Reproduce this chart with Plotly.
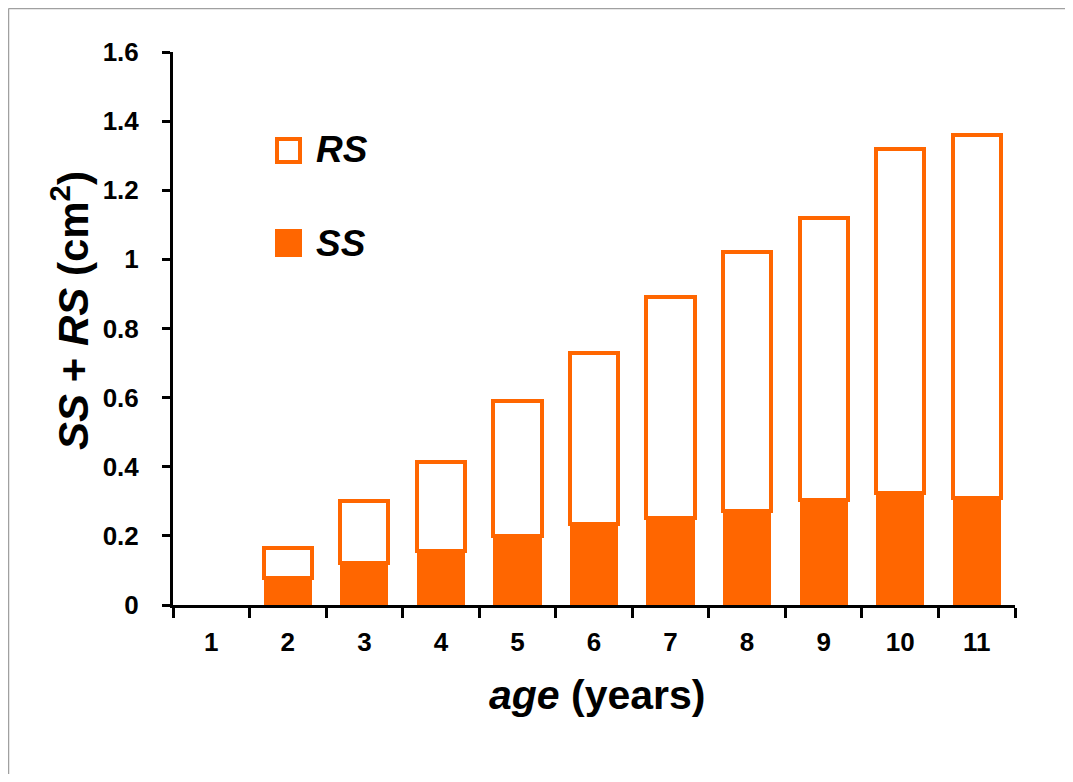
import plotly.graph_objects as go

ages = ["1", "2", "3", "4", "5", "6", "7", "8", "9", "10", "11"]
ss_values = [None, 0.078, 0.122, 0.156, 0.200, 0.234, 0.252, 0.272, 0.304, 0.324, 0.310]
rs_values = [None, 0.087, 0.178, 0.259, 0.390, 0.496, 0.638, 0.748, 0.816, 0.996, 1.050]
y_ticks = [0, 0.2, 0.4, 0.6, 0.8, 1.0, 1.2, 1.4, 1.6]
y_tick_labels = ["0", "0.2", "0.4", "0.6", "0.8", "1", "1.2", "1.4", "1.6"]

ORANGE = "#FF6600"
FONT = "Liberation Sans"

fig = go.Figure()
fig.add_trace(go.Bar(
    x=ages, y=ss_values, name="SS",
    marker=dict(color=ORANGE, line=dict(width=0)),
))
fig.add_trace(go.Bar(
    x=ages, y=rs_values, name="RS",
    marker=dict(color="white", line=dict(color=ORANGE, width=4)),
))

OFF = 8  # page body margin
W, H = 1073 - 2 * OFF, 782 - 2 * OFF  # fit inside the window without scrollbars
PLOT_X0, PLOT_X1, PLOT_Y0, PLOT_Y1 = 173, 1015, 52, 605  # target screen coords
L = PLOT_X0 - OFF
T = PLOT_Y0 - OFF
R = W - L - (PLOT_X1 - PLOT_X0)
B = H - T - (PLOT_Y1 - PLOT_Y0)
pw, ph = PLOT_X1 - PLOT_X0, PLOT_Y1 - PLOT_Y0


def px(x):
    return (x - PLOT_X0) / pw


def py(y):
    return (PLOT_Y1 - y) / ph


FRAME = dict(color="#a0a0a0", width=1.5)
shapes = [
    # outer frame: only top and left edges are visible in the view
    dict(type="line", xref="paper", yref="paper",
         x0=px(8.5), x1=px(1200), y0=py(8.5), y1=py(8.5), line=FRAME, layer="below"),
    dict(type="line", xref="paper", yref="paper",
         x0=px(8.5), x1=px(8.5), y0=py(8.5), y1=py(900), line=FRAME, layer="below"),
    # legend swatches
    dict(type="rect", xref="paper", yref="paper",
         x0=px(277), x1=px(300), y0=py(162), y1=py(139),
         line=dict(color=ORANGE, width=4), fillcolor="white"),
    dict(type="rect", xref="paper", yref="paper",
         x0=px(275), x1=px(302), y0=py(257), y1=py(229),
         line=dict(width=0), fillcolor=ORANGE),
]

annotations = [
    dict(text="<b><i>RS</i></b>", xref="paper", yref="paper", x=px(314), y=py(150),
         xanchor="left", yanchor="middle", showarrow=False,
         font=dict(family=FONT, size=37, color="black")),
    dict(text="<b><i>SS</i></b>", xref="paper", yref="paper", x=px(314), y=py(243),
         xanchor="left", yanchor="middle", showarrow=False,
         font=dict(family=FONT, size=37, color="black")),
    dict(text="<b><i>age</i> (years)</b>", xref="paper", yref="paper", x=px(597), y=py(695),
         xanchor="center", yanchor="middle", showarrow=False,
         font=dict(family=FONT, size=41, color="black")),
    dict(text="<b><i>SS</i> + <i>RS</i> (cm<sup>2</sup>)</b>", xref="paper", yref="paper",
         x=px(70), y=py(311), xanchor="center", yanchor="middle", showarrow=False,
         textangle=-90, font=dict(family=FONT, size=42, color="black")),
]

fig.update_layout(
    width=W, height=H,
    margin=dict(l=L, r=R, t=T, b=B, autoexpand=False),
    barmode="stack", bargap=0.37,
    showlegend=False,
    paper_bgcolor="white", plot_bgcolor="white",
    font=dict(family=FONT, color="black"),
    shapes=shapes, annotations=annotations,
    xaxis=dict(
        type="category", categoryorder="array", categoryarray=ages,
        showline=True, linecolor="black", linewidth=3,
        ticks="outside", ticklen=10, tickwidth=3, tickcolor="black",
        tickson="boundaries", showgrid=False, zeroline=False,
        tickfont=dict(family=FONT, size=26, color="black", weight="bold"),
        ticklabelstandoff=12,
    ),
    yaxis=dict(
        range=[0, 1.6], tickvals=y_ticks, ticktext=y_tick_labels,
        showline=True, linecolor="black", linewidth=3,
        ticks="outside", ticklen=8, tickwidth=3, tickcolor="black",
        showgrid=False, zeroline=False,
        tickfont=dict(family=FONT, size=26, color="black", weight="bold"),
        ticklabelstandoff=18,
    ),
)

fig.write_html("out.html")
